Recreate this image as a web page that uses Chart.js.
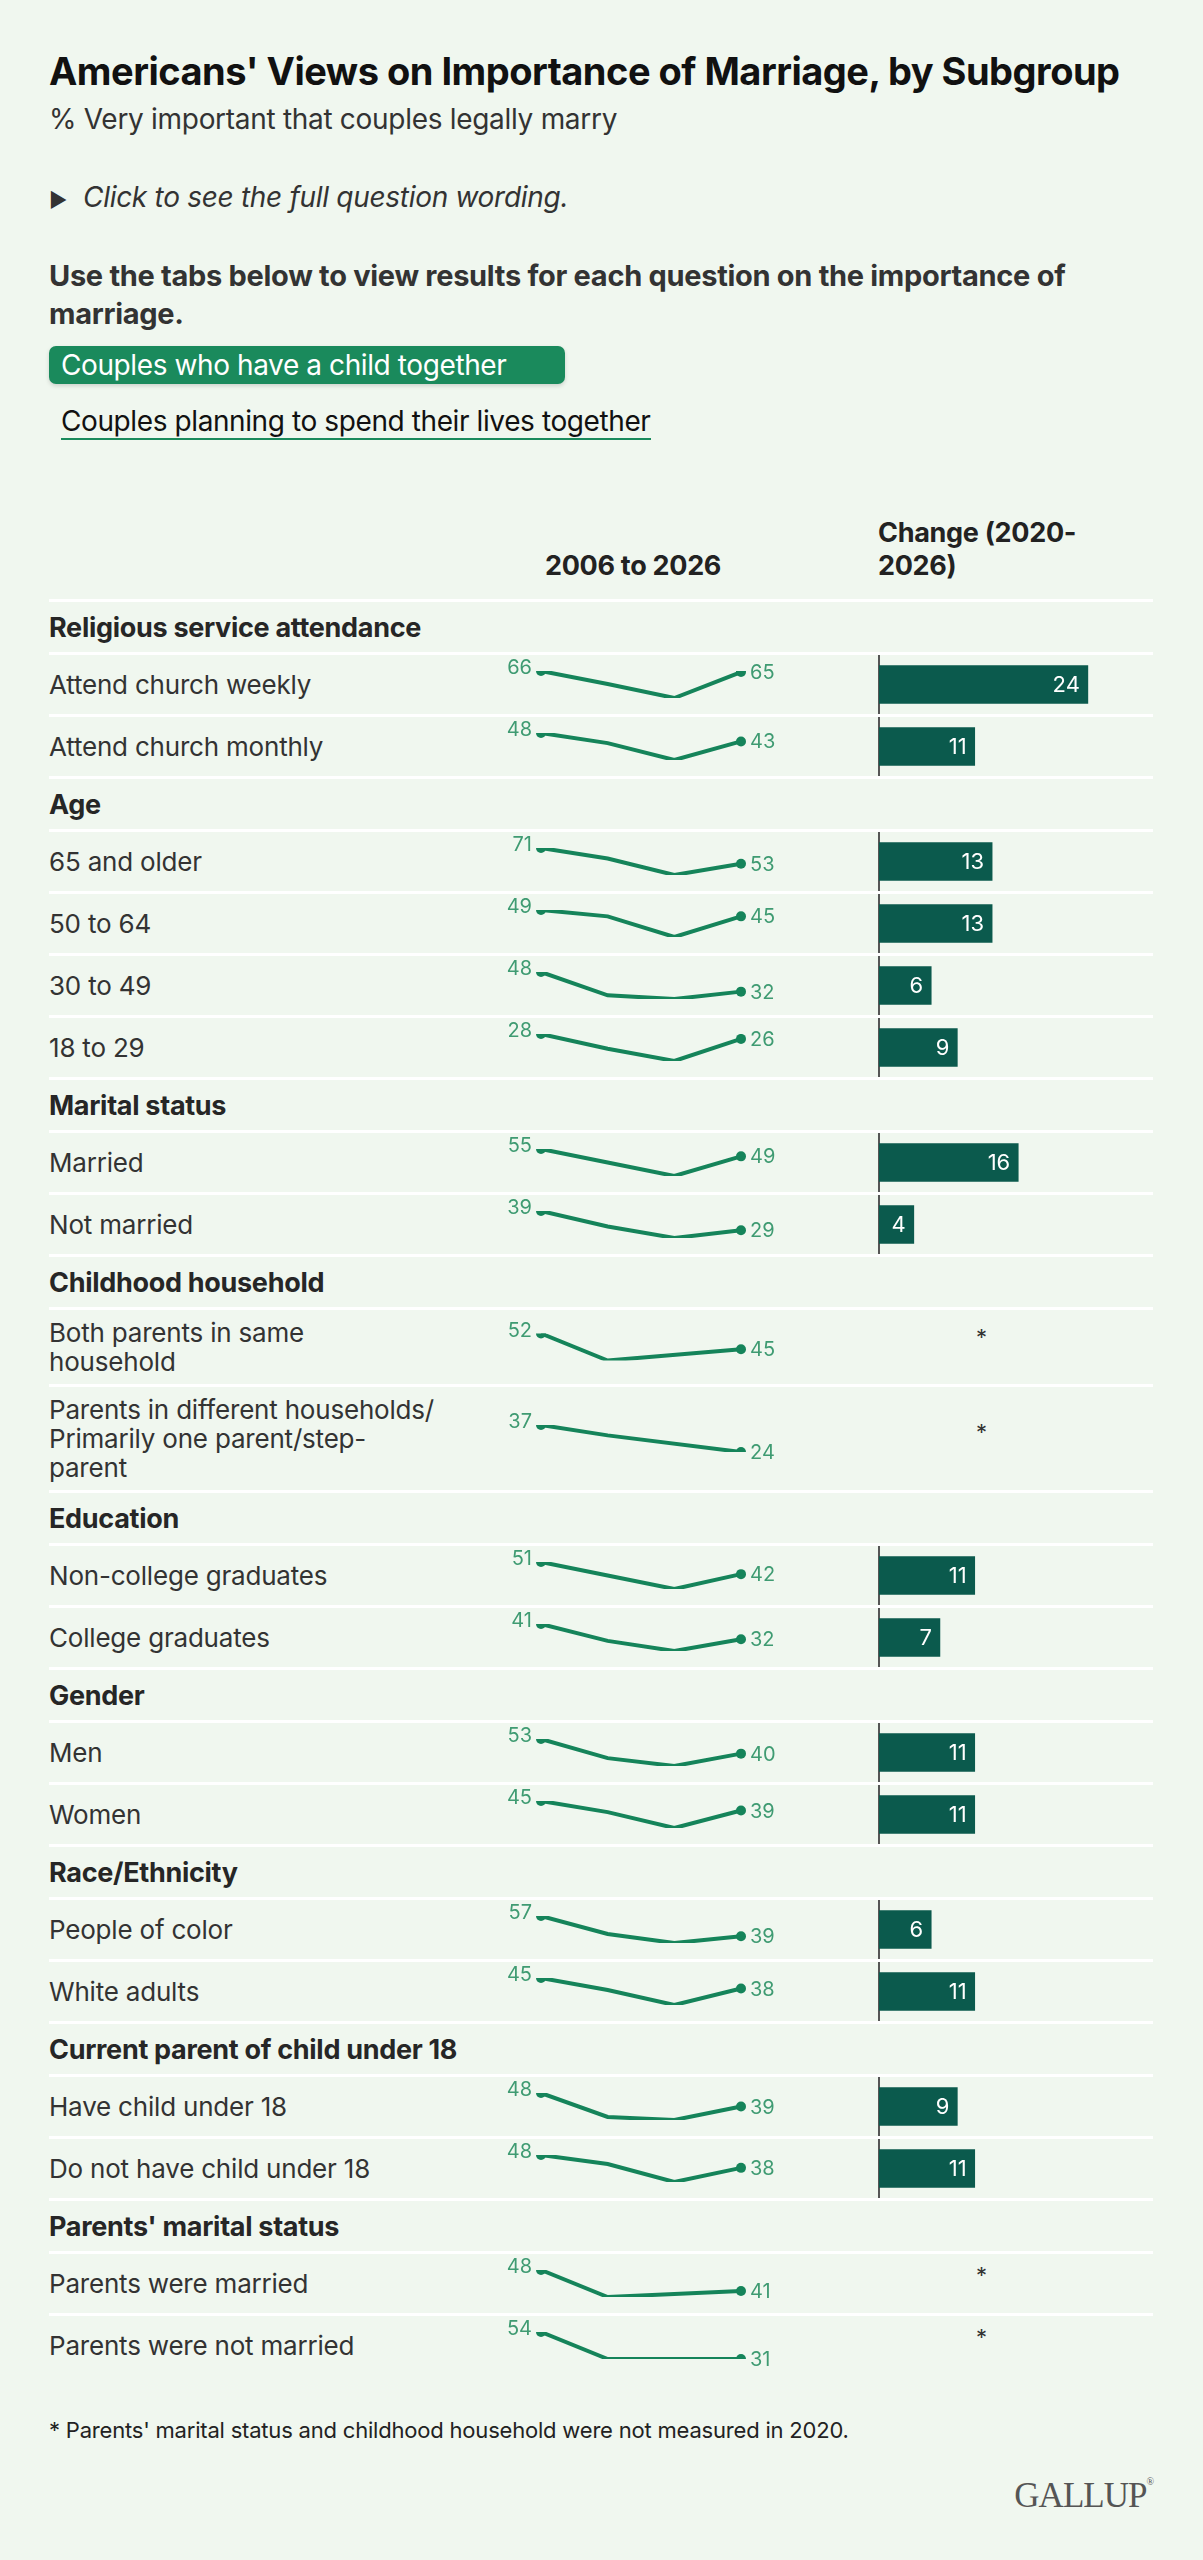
<!DOCTYPE html>
<html><head><meta charset="utf-8">
<script src="https://cdn.jsdelivr.net/npm/chart.js@4"></script>
<style>
body{margin:0;background:#f0f7ef;font-family:Inter,"Noto Sans",sans-serif;color:#262626;}
#page{position:relative;width:1203px;height:2560px;}
.abs{position:absolute;}
#rows{position:absolute;left:49px;top:599px;width:1104px;}
.row{position:relative;border-top:3px solid #fff;box-sizing:border-box;}
.sec{font-weight:700;font-size:27px;display:flex;align-items:center;letter-spacing:-0.3px;}
.lbl{position:absolute;left:0;top:0;bottom:0;display:flex;align-items:center;font-size:26px;white-space:pre-line;line-height:29px;color:#333;letter-spacing:-0.2px;}
.ax{position:absolute;left:829px;top:0;bottom:0;border-left:2px solid #555;}
.star{position:absolute;left:927px;font-size:22px;color:#333;}
canvas{position:absolute;top:0;}
</style></head><body><div id="page">
<div class="abs" style="left:49px;top:48px;font-size:38px;font-weight:700;color:#111;letter-spacing:-0.5px">Americans' Views on Importance of Marriage, by Subgroup</div>
<div class="abs" style="left:49px;top:102px;font-size:28px;color:#333;letter-spacing:-0.3px">% Very important that couples legally marry</div>
<div class="abs" style="left:49px;top:180px;font-size:28px;font-style:italic;color:#333;letter-spacing:-0.3px"><span style="font-style:normal;font-size:20px;margin-right:16px">&#9654;</span>Click to see the full question wording.</div>
<div class="abs" style="left:49px;top:257px;width:1120px;font-size:29px;font-weight:700;line-height:38px;color:#333;letter-spacing:-0.3px">Use the tabs below to view results for each question on the importance of marriage.</div>
<div class="abs" style="left:49px;top:346px;width:516px;height:38px;background:#1a8a5c;border-radius:7px;color:#fff;font-size:28px;line-height:38px;box-sizing:border-box;padding-left:12px;box-shadow:0 2px 4px rgba(0,0,0,.15);letter-spacing:-0.4px;white-space:nowrap">Couples who have a child together</div>
<div class="abs" style="left:61px;top:404px;font-size:28px;color:#111;border-bottom:2px solid #1a8a5c;line-height:34px;letter-spacing:-0.4px">Couples planning to spend their lives together</div>
<div class="abs" style="left:545px;top:549px;font-size:27px;font-weight:700;color:#222;letter-spacing:-0.3px">2006 to 2026</div>
<div class="abs" style="left:878px;top:516px;font-size:27px;font-weight:700;color:#222;line-height:33px;letter-spacing:-0.3px">Change (2020-<br>2026)</div>
<div id="rows"></div>
<div class="abs" style="left:49px;top:2417px;font-size:22px;color:#222;letter-spacing:-0.2px">* Parents' marital status and childhood household were not measured in 2020.</div>
<div class="abs" style="right:50px;top:2476px;font-size:35px;font-family:'Liberation Serif',serif;color:#555;letter-spacing:-1px">GALLUP<span style="font-size:10px;vertical-align:top">&#174;</span></div>
</div>
<script>
const groups = ["Religious service attendance","Age","Marital status","Childhood household","Education","Gender","Race/Ethnicity","Current parent of child under 18","Parents' marital status"];
const categories = ["Attend church weekly","Attend church monthly","65 and older","50 to 64","30 to 49","18 to 29","Married","Not married","Both parents in same\nhousehold","Parents in different households/\nPrimarily one parent/step-\nparent","Non-college graduates","College graduates","Men","Women","People of color","White adults","Have child under 18","Do not have child under 18","Parents were married","Parents were not married"];
const categoryGroup = [0,0,1,1,1,1,2,2,3,3,4,4,5,5,6,6,7,7,8,8];
const years = ["2006","2013","2020","2026"];
const v2006 = [66,48,71,49,48,28,55,39,52,37,51,41,53,45,57,45,48,48,48,54];
const v2013 = [54,42,59,45,29,22,44,31,40,32,41,31,36,38,41,37,32,41,39,31];
const v2020 = [41,32,40,32,26,17,33,25,null,null,31,25,29,28,33,27,30,27,null,null];
const v2026 = [65,43,53,45,32,26,49,29,45,24,42,32,40,39,39,38,39,38,41,31];
const change = [24,11,13,13,6,9,16,4,null,null,11,7,11,11,6,11,9,11,null,null];

const LINE="#15845a", LBL="#3f9b72", BAR="#0b5a4d";
const endLabels={id:'endLabels',afterDatasetsDraw(c){const m=c.getDatasetMeta(0),d=c.data.datasets[0].data,ctx=c.ctx;
 ctx.save();ctx.font='20px Inter';ctx.fillStyle=LBL;ctx.textBaseline='middle';
 const a=m.data[0],b=m.data[3];ctx.textAlign='right';ctx.fillText(d[0],a.x-9,a.y-3);
 ctx.textAlign='left';ctx.fillText(d[3],b.x+9,b.y+1);ctx.restore();}};
const barLabel={id:'barLabel',afterDatasetsDraw(c){const el=c.getDatasetMeta(0).data[0],ctx=c.ctx;
 ctx.save();ctx.font='22px Inter';ctx.fillStyle='#fff';ctx.textAlign='right';ctx.textBaseline='middle';
 ctx.fillText(c.data.datasets[0].data[0],el.x-8,el.y+1);ctx.restore();}};

const rows=document.getElementById('rows');
let last=-1;
categories.forEach((cat,i)=>{
 if(categoryGroup[i]!==last){last=categoryGroup[i];const s=document.createElement('div');s.className='row sec';s.style.height='53px';s.textContent=groups[last];rows.appendChild(s);}
 const lines=cat.split('\n').length;const h=lines===1?62:(lines===2?77:106);
 const r=document.createElement('div');r.className='row';r.style.height=h+'px';rows.appendChild(r);
 const l=document.createElement('div');l.className='lbl';l.textContent=cat;r.appendChild(l);
 const ih=h-3;
 const c1=document.createElement('canvas');c1.width=300;c1.height=ih;c1.style.left='440px';r.appendChild(c1);
 const vals=[v2006[i],v2013[i],v2020[i],v2026[i]];const nn=vals.filter(v=>v!==null);
 const pad=(ih-27)/2;
 new Chart(c1,{type:'line',data:{labels:years,datasets:[{data:vals,borderColor:LINE,borderWidth:4,spanGaps:true,pointRadius:[5,0,0,5],pointBackgroundColor:LINE,pointBorderWidth:0,tension:0}]},
  options:{responsive:false,animation:false,devicePixelRatio:1,layout:{padding:{left:52,right:48,top:pad,bottom:pad}},plugins:{legend:{display:false},tooltip:{enabled:false}},
  scales:{x:{display:false,offset:false},y:{display:false,min:Math.min(...nn),max:Math.max(...nn)}}},plugins:[endLabels]});
 if(change[i]!==null){
  const ax=document.createElement('div');ax.className='ax';r.appendChild(ax);
  const c2=document.createElement('canvas');c2.width=275;c2.height=ih;c2.style.left='830px';r.appendChild(c2);
  new Chart(c2,{type:'bar',data:{labels:[cat],datasets:[{data:[change[i]],backgroundColor:BAR,barThickness:38}]},
   options:{indexAxis:'y',responsive:false,animation:false,devicePixelRatio:1,layout:{padding:0},plugins:{legend:{display:false},tooltip:{enabled:false}},
   scales:{x:{display:false,min:0,max:31.6},y:{display:false}}},plugins:[barLabel]});
 } else {const s=document.createElement('div');s.className='star';s.textContent='*';s.style.top=(lines===1?8:(lines===2?14:32))+'px';r.appendChild(s);}
});
</script></body></html>
